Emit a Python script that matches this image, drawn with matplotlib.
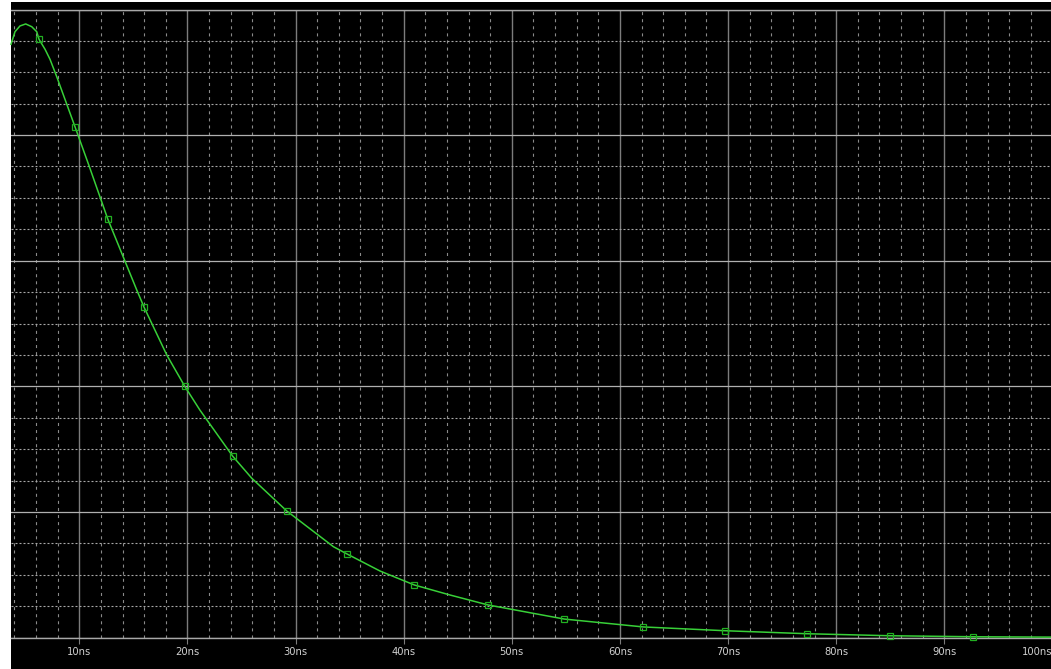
import matplotlib
matplotlib.use('Agg')
import matplotlib.pyplot as plt
from matplotlib.patches import Rectangle
from matplotlib.ticker import MultipleLocator

# tiempo (ns) y valor de la traza (divisiones verticales)
tiempo = [3.68, 4.05, 4.51, 5.04, 5.60, 6.06, 6.27, 6.83, 7.29, 7.91, 9.60,
          10.93, 12.63, 15.31, 15.99, 18.09, 19.75, 21.15, 24.19, 25.95, 29.19,
          33.5, 34.76, 37.82, 40.99, 44.3, 47.81, 54.84, 62.17, 69.73, 77.32,
          84.97, 92.67, 100.0]
valor = [4.723, 4.823, 4.869, 4.885, 4.863, 4.823, 4.763, 4.683, 4.603, 4.465, 4.066,
         3.748, 3.332, 2.767, 2.629, 2.249, 2.000, 1.811, 1.443, 1.268, 1.007,
         0.723, 0.665, 0.529, 0.418, 0.338, 0.259, 0.147, 0.084, 0.054, 0.030,
         0.014, 0.006, 0.003]
# puntos de la simulacion que llevan marcador
marcados = [6.27, 9.60, 12.63, 15.99, 19.75, 24.19, 29.19, 34.76, 40.99, 47.81,
            54.84, 62.17, 69.73, 77.32, 84.97, 92.67]

ticks_x = [10, 20, 30, 40, 50, 60, 70, 80, 90, 100]
etiquetas_x = ['10ns', '20ns', '30ns', '40ns', '50ns', '60ns', '70ns', '80ns', '90ns', '100ns']

W, H = 1051, 669
plt.rcParams['lines.scale_dashes'] = False
fig = plt.figure(figsize=(W / 100, H / 100), dpi=100, facecolor='white')

# fondo negro del osciloscopio
fig.patches.append(Rectangle((11 / W, 0), 1, (H - 2) / H, transform=fig.transFigure,
                             facecolor='black', edgecolor='none', zorder=-10))

ax = fig.add_axes([11 / W, (H - 637.5) / H, 1041.4 / W, 628 / H])
ax.set_facecolor('black')
ax.set_xlim(3.68, 100)
ax.set_ylim(0, 5)

ax.xaxis.set_major_locator(MultipleLocator(10))
ax.xaxis.set_minor_locator(MultipleLocator(2))
ax.yaxis.set_major_locator(MultipleLocator(1))
ax.yaxis.set_minor_locator(MultipleLocator(0.25))

# rejilla: mayores solidas, menores punteadas
ax.grid(which='major', axis='x', color='#7c7c7c', linewidth=1.0, linestyle='-')
ax.grid(which='major', axis='y', color='#b0b0b0', linewidth=0.9, linestyle='-')
ax.grid(which='minor', axis='x', color='#8a8a8a', linewidth=0.8, linestyle=(0, (2.2, 2.9)))
ax.grid(which='minor', axis='y', color='#a8a8a8', linewidth=0.8, linestyle=(0, (1.44, 1.44)))
ax.set_axisbelow(True)

for lado in ['left', 'right']:
    ax.spines[lado].set_visible(False)
for lado in ['top', 'bottom']:
    ax.spines[lado].set_color('#a8a8a8')
    ax.spines[lado].set_linewidth(1.0)

ax.set_xticks(ticks_x)
ax.set_xticklabels(etiquetas_x, fontsize=8, color='#d0d0d0', fontstretch='condensed')
ax.tick_params(axis='x', which='major', length=4, color='#7c7c7c', pad=3)
ax.tick_params(axis='x', which='minor', length=0)
ax.tick_params(axis='y', which='both', length=0, labelleft=False)
# la ultima etiqueta se alinea a la derecha para que quepa
ax.get_xticklabels()[-1].set_horizontalalignment('right')

idx = [tiempo.index(t) for t in marcados]
ax.plot(tiempo, valor, color='#38d038', linewidth=1.1, marker='s', markevery=idx,
        markersize=5, markerfacecolor='none', markeredgecolor='#22b022',
        markeredgewidth=0.9, clip_on=False, zorder=5)

fig.savefig('out.png', dpi=100, facecolor=fig.get_facecolor())
